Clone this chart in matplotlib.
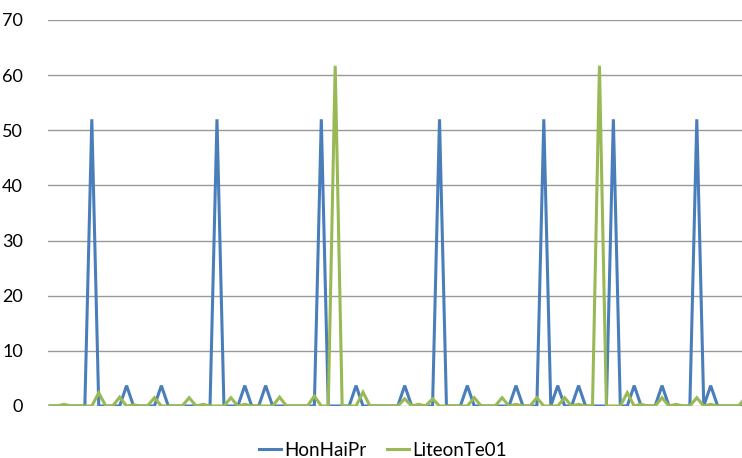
import matplotlib
matplotlib.use("Agg")
import matplotlib.pyplot as plt

plt.rcParams['font.family'] = ['Lato', 'DejaVu Sans']

series_names = ["HonHaiPr", "LiteonTe01"]

hon_hai = [
    0, 0, 0, 0, 0, 0, 52, 0, 0, 0,
    0, 3.7, 0, 0, 0, 0, 3.7, 0, 0, 0,
    0, 0, 0, 0, 52, 0, 0, 0, 3.7, 0,
    0, 3.7, 0, 0, 0, 0, 0, 0, 0, 52,
    0, 0, 0, 0, 3.7, 0, 0, 0, 0, 0,
    0, 3.7, 0, 0, 0, 0, 52, 0, 0, 0,
    3.7, 0, 0, 0, 0, 0, 0, 3.7, 0, 0,
    0, 52, 0, 3.7, 0, 0, 3.7, 0, 0, 0,
    0, 52, 0, 0, 3.7, 0, 0, 0, 3.7, 0,
    0, 0, 0, 52, 0, 3.7, 0, 0, 0, 0,
    0,
]

liteon = [
    0, 0, 0.3, 0, 0, 0, 0, 2.4, 0, 0,
    1.6, 0, 0.2, 0, 0, 1.5, 0, 0, 0, 0,
    1.5, 0, 0.3, 0, 0, 0, 1.5, 0, 0.3, 0,
    0, 0, 0, 1.6, 0, 0, 0, 0, 1.8, 0,
    0, 61.7, 0, 0, 0, 2.5, 0, 0, 0, 0,
    0, 1.3, 0, 0.3, 0, 1.3, 0, 0, 0, 0,
    0, 1.5, 0, 0, 0, 1.5, 0, 0.3, 0, 0,
    1.5, 0, 0, 0, 1.5, 0, 0.3, 0, 0, 61.7,
    0, 0, 0, 2.4, 0, 0.3, 0, 0, 1.5, 0,
    0.3, 0, 0, 1.5, 0, 0.3, 0, 0, 0, 0,
    1.5,
]

categories = list(range(len(hon_hai)))
y_ticks = [0, 10, 20, 30, 40, 50, 60, 70]

W, H = 742, 458
fig = plt.figure(figsize=(W / 100, H / 100), dpi=100)
ax = fig.add_axes([48 / W, (H - 406) / H, 1 - 48 / W, (406 - 20) / H])

for y in y_ticks:
    ax.axhline(y, color="#999999", linewidth=1.0, zorder=1)

ax.plot(categories, hon_hai, color="#4a7ebb", linewidth=2.2, label=series_names[0],
        zorder=3, solid_joinstyle="miter")
ax.plot(categories, liteon, color="#98b954", linewidth=2.2, label=series_names[1],
        zorder=4, solid_joinstyle="miter")

ax.set_xlim(-0.3, 99.5)
ax.set_ylim(0, 70)
ax.set_yticks(y_ticks)
ax.set_yticklabels([str(v) for v in y_ticks], fontsize=13, color="#000000")
ax.set_xticks([])
ax.tick_params(axis="y", length=0, pad=18)
for s in ax.spines.values():
    s.set_visible(False)

handles, labels = ax.get_legend_handles_labels()
fig.legend(handles, labels, loc="center", bbox_to_anchor=(0.516, (H - 450) / H),
           ncol=2, frameon=False, fontsize=13.5, handlelength=1.2,
           handletextpad=0.15, columnspacing=1.1)

fig.savefig("out.png", dpi=100)
